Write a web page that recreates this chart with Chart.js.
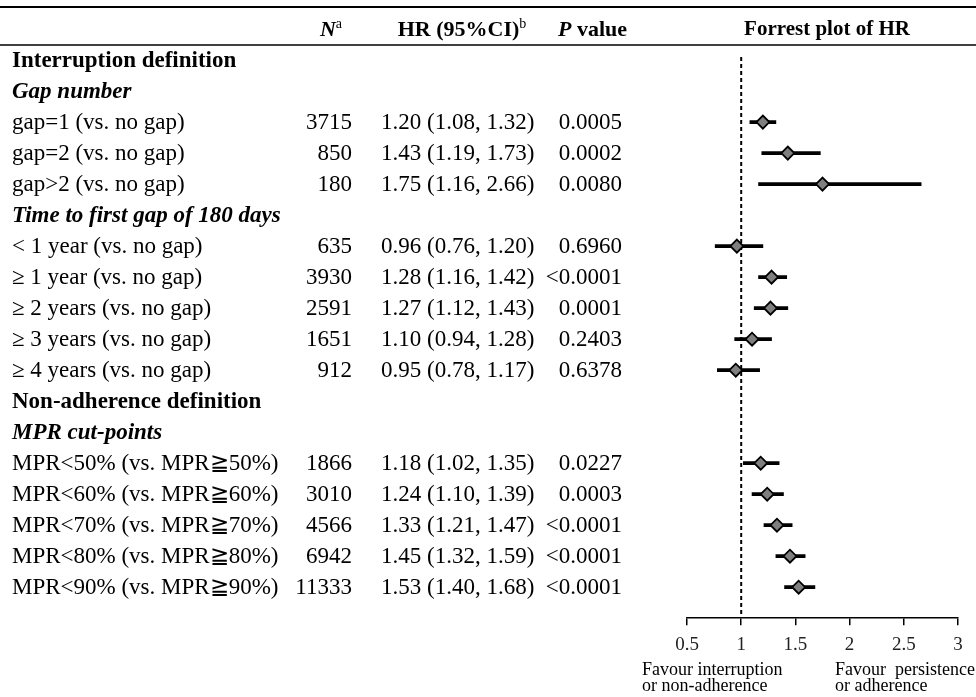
<!DOCTYPE html>
<html>
<head>
<meta charset="utf-8">
<script src="https://cdn.jsdelivr.net/npm/chart.js@4.4.1/dist/chart.umd.min.js"></script>
<style>
  body { margin: 0; background: #fff; }
  canvas { display: block; }
</style>
</head>
<body>
<canvas id="forest" width="976" height="697"></canvas>
<script>
const sections = ["Interruption definition", "Non-adherence definition"];
const subgroups = ["Gap number", "Time to first gap of 180 days", "MPR cut-points"];
const subgroupSection = [0, 0, 1];
const itemLabels = [
  "gap=1 (vs. no gap)", "gap=2 (vs. no gap)", "gap>2 (vs. no gap)",
  "< 1 year (vs. no gap)", "\u2265 1 year (vs. no gap)", "\u2265 2 years (vs. no gap)",
  "\u2265 3 years (vs. no gap)", "\u2265 4 years (vs. no gap)",
  "MPR<50% (vs. MPR\u226750%)", "MPR<60% (vs. MPR\u226760%)", "MPR<70% (vs. MPR\u226770%)",
  "MPR<80% (vs. MPR\u226780%)", "MPR<90% (vs. MPR\u226790%)"
];
const itemSubgroup = [0, 0, 0, 1, 1, 1, 1, 1, 2, 2, 2, 2, 2];
const nPatients = [3715, 850, 180, 635, 3930, 2591, 1651, 912, 1866, 3010, 4566, 6942, 11333];
const hr = [1.20, 1.43, 1.75, 0.96, 1.28, 1.27, 1.10, 0.95, 1.18, 1.24, 1.33, 1.45, 1.53];
const ciLow = [1.08, 1.19, 1.16, 0.76, 1.16, 1.12, 0.94, 0.78, 1.02, 1.10, 1.21, 1.32, 1.40];
const ciHigh = [1.32, 1.73, 2.66, 1.20, 1.42, 1.43, 1.28, 1.17, 1.35, 1.39, 1.47, 1.59, 1.68];
const pValues = ["0.0005", "0.0002", "0.0080", "0.6960", "<0.0001", "0.0001", "0.2403",
  "0.6378", "0.0227", "0.0003", "<0.0001", "<0.0001", "<0.0001"];
const xTicks = [0.5, 1, 1.5, 2, 2.5, 3];
const favourLeft = ["Favour interruption", "or non-adherence"];
const favourRight = ["Favour  persistence", "or adherence"];

const serif = '"Liberation Serif", "Times New Roman", serif';

// table rows: section heading, subgroup heading, then the items
const rows = [];
const itemRow = [];
let lastSub = -1, lastSec = -1;
itemLabels.forEach((label, i) => {
  const sub = itemSubgroup[i];
  if (sub !== lastSub) {
    const sec = subgroupSection[sub];
    if (sec !== lastSec) {
      rows.push({ kind: "section", text: sections[sec] });
      lastSec = sec;
    }
    rows.push({ kind: "subgroup", text: subgroups[sub] });
    lastSub = sub;
  }
  itemRow.push(rows.length);
  rows.push({ kind: "item", text: label, item: i });
});

const yMin = -0.1, yMax = rows.length;

function drawRuns(ctx, runs, x, y, align) {
  let total = 0;
  runs.forEach(r => { ctx.font = r.font; r.w = ctx.measureText(r.text).width; total += r.w; });
  let cx = align === "right" ? x - total : align === "center" ? x - total / 2 : x;
  runs.forEach(r => { ctx.font = r.font; ctx.fillText(r.text, cx, y + (r.dy || 0)); cx += r.w; });
}

const tablePlugin = {
  id: "table",
  afterDraw(chart) {
    const ctx = chart.ctx;
    const ys = chart.scales.y;
    ctx.save();
    ctx.fillStyle = "#000";
    ctx.strokeStyle = "#000";
    ctx.textBaseline = "middle";
    ctx.textAlign = "left";

    // rules
    ctx.lineWidth = 2;
    ctx.beginPath(); ctx.moveTo(0, 7); ctx.lineTo(976, 7); ctx.stroke();
    ctx.lineWidth = 1.6;
    ctx.beginPath(); ctx.moveTo(0, 45); ctx.lineTo(976, 45); ctx.stroke();

    // header
    const hb = "bold 22px " + serif;
    const hbi = "italic bold 22px " + serif;
    const sup = "14px " + serif;
    drawRuns(ctx, [{ text: "N", font: hbi }, { text: "a", font: sup, dy: -6 }], 342, 30, "right");
    drawRuns(ctx, [{ text: "HR (95%CI)", font: hb }, { text: "b", font: sup, dy: -6 }], 462, 30, "center");
    drawRuns(ctx, [{ text: "P", font: hbi }, { text: " value", font: hb }], 627, 30, "right");
    drawRuns(ctx, [{ text: "Forrest plot of HR", font: "bold 21px " + serif }], 827, 30, "center");

    // body
    const body = "23px " + serif;
    rows.forEach((r, idx) => {
      const y = ys.getPixelForValue(idx) + 1;
      if (r.kind === "section") {
        drawRuns(ctx, [{ text: r.text, font: "bold 23px " + serif }], 12, y, "left");
      } else if (r.kind === "subgroup") {
        drawRuns(ctx, [{ text: r.text, font: "italic bold 23px " + serif }], 12, y, "left");
      } else {
        const i = r.item;
        drawRuns(ctx, [{ text: r.text, font: body }], 12, y, "left");
        drawRuns(ctx, [{ text: String(nPatients[i]), font: body }], 352, y, "right");
        const hrText = hr[i].toFixed(2) + " (" + ciLow[i].toFixed(2) + ", " + ciHigh[i].toFixed(2) + ")";
        drawRuns(ctx, [{ text: hrText, font: body }], 381, y, "left");
        drawRuns(ctx, [{ text: pValues[i], font: body }], 622, y, "right");
      }
    });

    // favour captions
    const cap = "18px " + serif;
    favourLeft.forEach((t, k) => drawRuns(ctx, [{ text: t, font: cap }], 642, 670 + k * 16, "left"));
    favourRight.forEach((t, k) => drawRuns(ctx, [{ text: t, font: cap }], 835, 670 + k * 16, "left"));
    ctx.restore();
  }
};

new Chart(document.getElementById("forest"), {
  type: "scatter",
  data: {
    datasets: [
      {
        type: "scatter",
        data: hr.map((v, i) => ({ x: v, y: itemRow[i] })),
        pointStyle: "rectRot",
        radius: 6.5,
        backgroundColor: "#7f7f7f",
        borderColor: "#000",
        borderWidth: 1.8
      },
      {
        type: "bar",
        indexAxis: "y",
        data: hr.map((v, i) => ({ x: [ciLow[i], ciHigh[i]], y: itemRow[i] })),
        backgroundColor: "#000",
        borderWidth: 0,
        barThickness: 3
      },
      {
        type: "line",
        data: [{ x: 1, y: yMin }, { x: 1, y: yMax }],
        borderColor: "#000",
        borderWidth: 2,
        borderDash: [4, 3],
        pointRadius: 0
      }
    ]
  },
  options: {
    responsive: false,
    animation: false,
    layout: { padding: { left: 687, right: 18, top: 57, bottom: 33 } },
    plugins: { legend: { display: false }, tooltip: { enabled: false } },
    scales: {
      x: {
        type: "linear",
        min: xTicks[0],
        max: xTicks[xTicks.length - 1],
        offset: false,
        afterBuildTicks: scale => { scale.ticks = xTicks.map(v => ({ value: v })); },
        grid: { display: true, drawOnChartArea: false, drawTicks: true, tickLength: 7, color: "#000", lineWidth: 1.5, offset: false },
        border: { display: true, color: "#000", width: 1.5 },
        ticks: {
          color: "#222",
          font: { family: serif, size: 19 },
          padding: 8,
          maxRotation: 0,
          callback: v => String(v)
        }
      },
      y: {
        type: "linear",
        display: false,
        reverse: true,
        min: yMin,
        max: yMax,
        offset: false,
        grid: { offset: false }
      }
    }
  },
  plugins: [tablePlugin]
});
</script>
</body>
</html>
